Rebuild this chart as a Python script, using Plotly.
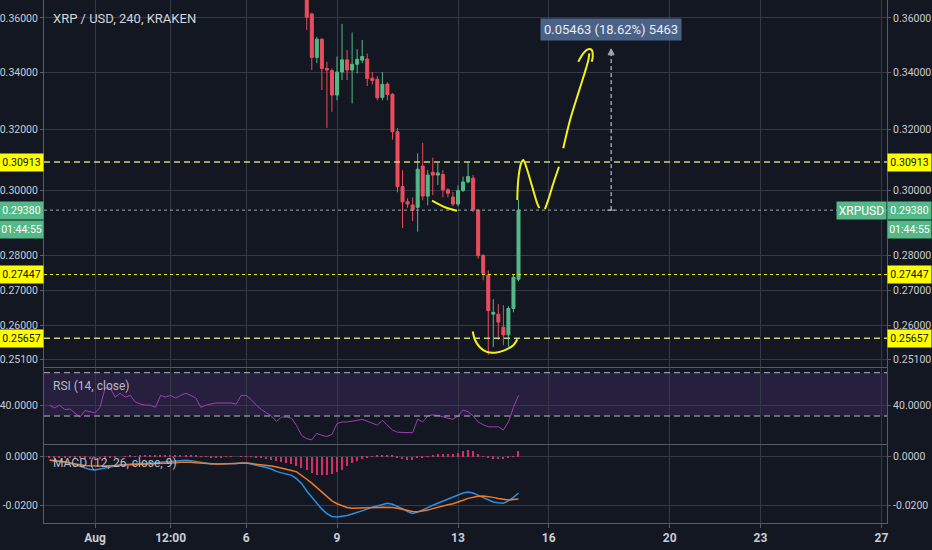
import numpy as np
import pandas as pd
import plotly.graph_objects as go

# ---------------- data ----------------
candle_start = "2018-08-08 00:00"
opens = [0.3720, 0.3615, 0.3453, 0.3520, 0.3413, 0.3405, 0.3318, 0.3400, 0.3444, 0.3407,
         0.3428, 0.3443, 0.3447, 0.3378, 0.3374, 0.3310, 0.3357, 0.3321, 0.3192, 0.3012,
         0.2964, 0.2954, 0.2947, 0.3078, 0.2982, 0.3058, 0.3049, 0.3051, 0.3002, 0.2979,
         0.2957, 0.3000, 0.3027, 0.3039, 0.2938, 0.2800, 0.2743, 0.2632, 0.2632, 0.2596,
         0.2575, 0.2648, 0.2731]
highs = [0.3745, 0.3620, 0.3529, 0.3523, 0.3437, 0.3413, 0.3456, 0.3577, 0.3480, 0.3545,
         0.3483, 0.3517, 0.3467, 0.3400, 0.3385, 0.3400, 0.3363, 0.3325, 0.3205, 0.3065,
         0.2975, 0.2978, 0.3120, 0.3155, 0.3065, 0.3106, 0.3088, 0.3065, 0.3007, 0.2995,
         0.3016, 0.3044, 0.3091, 0.3049, 0.2940, 0.2805, 0.2757, 0.2674, 0.2660, 0.2657,
         0.2654, 0.2746, 0.2970]
lows = [0.3555, 0.3407, 0.3432, 0.3336, 0.3205, 0.3260, 0.3300, 0.3371, 0.3371, 0.3289,
        0.3395, 0.3432, 0.3350, 0.3355, 0.3300, 0.3300, 0.3300, 0.3165, 0.2994, 0.2883,
        0.2945, 0.2904, 0.2872, 0.2969, 0.2953, 0.2985, 0.3017, 0.2978, 0.2978, 0.2950,
        0.2950, 0.2995, 0.3023, 0.2932, 0.2791, 0.2728, 0.2521, 0.2542, 0.2561, 0.2547,
        0.2543, 0.2637, 0.2725]
closes = [0.3603, 0.3453, 0.3520, 0.3413, 0.3407, 0.3318, 0.3400, 0.3444, 0.3407, 0.3428,
          0.3446, 0.3456, 0.3377, 0.3370, 0.3309, 0.3356, 0.3320, 0.3192, 0.3012, 0.2964,
          0.2957, 0.2938, 0.3068, 0.2982, 0.3049, 0.3049, 0.3056, 0.3002, 0.2991, 0.2957,
          0.2999, 0.3027, 0.3044, 0.2938, 0.2800, 0.2748, 0.2642, 0.2637, 0.2610, 0.2575,
          0.2648, 0.2737, 0.2938]

indicator_start = "2018-07-30 12:00"
rsi_values = [40, 37.5, 40, 36, 36.5, 33, 29, 35, 34,
              33, 38, 56, 56, 47.5, 51, 47.5, 49, 43, 41,
              40, 40, 38, 49, 47.5, 49, 46.5, 49, 51, 49,
              46.5, 38, 40, 41, 42, 42, 42, 42, 41, 49,
              49, 45, 40, 36, 33, 30, 25, 29, 29, 28,
              21, 12, 9, 8, 14, 12, 11, 13, 23, 24.5,
              24.5, 25, 26, 27, 25, 23, 21.5, 26, 21, 17,
              15, 15, 15, 14.5, 27, 24.5, 30, 31, 30.5, 29,
              28, 27, 30, 35.5, 34, 30, 24.5, 22, 20, 20,
              20, 17, 24.5, 38, 49]
macd_values = [-0.0013, -0.0015, -0.0018, -0.0022, -0.0026, -0.0032, -0.0040, -0.0046, -0.0052,
               -0.0054, -0.0050, -0.0046, -0.0040, -0.0036, -0.0034, -0.0032, -0.0030, -0.0030,
               -0.0028, -0.0028, -0.0026, -0.0026, -0.0024, -0.0022, -0.0020, -0.0018, -0.0016,
               -0.0014, -0.0016, -0.0020, -0.0024, -0.0028, -0.0030, -0.0030, -0.0030, -0.0030,
               -0.0030, -0.0028, -0.0026, -0.0026, -0.0030, -0.0034, -0.0038, -0.0044, -0.0050,
               -0.0060, -0.0066, -0.0070, -0.0076, -0.0090, -0.0110, -0.0140, -0.0166, -0.0192,
               -0.0214, -0.0232, -0.0244, -0.0246, -0.0244, -0.0240, -0.0234, -0.0228, -0.0222,
               -0.0214, -0.0206, -0.0200, -0.0194, -0.0190, -0.0194, -0.0202, -0.0212, -0.0224,
               -0.0232, -0.0226, -0.0218, -0.0208, -0.0198, -0.0190, -0.0182, -0.0172, -0.0164,
               -0.0156, -0.0148, -0.0144, -0.0148, -0.0158, -0.0168, -0.0178, -0.0185, -0.0188,
               -0.0190, -0.0180, -0.0166, -0.0148]
signal_values = [-0.0014, -0.0016, -0.0019, -0.0022, -0.0026, -0.0030, -0.0034, -0.0036, -0.0037,
                 -0.0038, -0.0038, -0.0038, -0.0037, -0.0036, -0.0035, -0.0035, -0.0034, -0.0034,
                 -0.0033, -0.0032, -0.0031, -0.0030, -0.0030, -0.0029, -0.0027, -0.0025, -0.0023,
                 -0.0022, -0.0023, -0.0025, -0.0027, -0.0029, -0.0030, -0.0030, -0.0030, -0.0029,
                 -0.0028, -0.0027, -0.0026, -0.0026, -0.0028, -0.0030, -0.0032, -0.0034, -0.0038,
                 -0.0042, -0.0046, -0.0050, -0.0056, -0.0062, -0.0076, -0.0092, -0.0108, -0.0126,
                 -0.0146, -0.0164, -0.0180, -0.0192, -0.0200, -0.0207, -0.0210, -0.0210, -0.0210,
                 -0.0210, -0.0209, -0.0207, -0.0206, -0.0205, -0.0207, -0.0210, -0.0215, -0.0220,
                 -0.0224, -0.0225, -0.0222, -0.0218, -0.0212, -0.0206, -0.0200, -0.0196, -0.0192,
                 -0.0186, -0.0178, -0.0170, -0.0164, -0.0161, -0.0160, -0.0162, -0.0166, -0.0171,
                 -0.0175, -0.0177, -0.0175, -0.0173]
hist_values = [-0.0002, -0.0002, -0.0002, -0.0003, -0.0004, -0.0005, -0.0006, -0.0008, -0.0010,
               -0.0012, -0.0010, -0.0008, -0.0004, -0.0002, 0.0000, 0.0002, 0.0003, 0.0002,
               0.0003, 0.0003, 0.0004, 0.0003, 0.0004, 0.0005, 0.0005, 0.0005, 0.0006, 0.0006, 0.0005, 0.0003,
               0.0001, -0.0001, -0.0002, -0.0002, -0.0002, -0.0001, -0.0001, 0.0000, 0.0001, 0.0001, -0.0001,
               -0.0004, -0.0007, -0.0010, -0.0014, -0.0018, -0.0022, -0.0026, -0.0030, -0.0038, -0.0046,
               -0.0056, -0.0066, -0.0074, -0.0076, -0.0076, -0.0072,
               -0.0062, -0.0056, -0.0036, -0.0026, -0.0016, -0.0008, -0.0004, 0.0002, 0.0004, 0.0006,
               0.0008, 0.0003, -0.0006, -0.0010, -0.0012, -0.0014,
               -0.0006, -0.0002, 0.0002, 0.0006, 0.0010, 0.0010, 0.0012, 0.0012, 0.0014, 0.0024, 0.0026,
               0.0024, 0.0010, 0.0002, -0.0006, -0.0008, -0.0010, -0.0010, -0.0006, 0.0001, 0.0022]

level_dashed = [0.30913, 0.25657]
level_dotted = [0.27447]
last_price = 0.29380
countdown_text = "01:44:55"
symbol_text = "XRPUSD"
title_text = "XRP / USD, 240, KRAKEN"
rsi_title = "RSI (14, close)"
macd_title = "MACD (12, 26, close, 9)"

price_ticks = [0.251, 0.26, 0.27, 0.28, 0.30, 0.32, 0.34, 0.36]
rsi_ticks = [40]
rsi_band = [30, 70]
macd_ticks = [0.0, -0.02]

x_tick_dates = ["2018-08-01", "2018-08-03 12:00", "2018-08-06", "2018-08-09", "2018-08-13",
                "2018-08-16", "2018-08-20", "2018-08-23", "2018-08-27"]
x_tick_text = ["Aug", "12:00", "6", "9", "13", "16", "20", "23", "27"]

measure_time = "2018-08-18 01:30"
measure_from = 0.29380
measure_change = 0.05463
measure_label = "0.05463 (18.62%) 5463"

# freehand drawings (time, price)
draw_small_arc_t = ["2018-08-12 03:24", "2018-08-12 13:42", "2018-08-12 23:12"]
draw_small_arc_p = [0.2968, 0.2947, 0.2936]
draw_bottom_arc_t = ["2018-08-13 11:42", "2018-08-13 13:30", "2018-08-13 17:30", "2018-08-13 22:48",
                     "2018-08-14 05:24", "2018-08-14 13:18", "2018-08-14 19:54", "2018-08-14 23:06"]
draw_bottom_arc_p = [0.2584, 0.2561, 0.2541, 0.2529, 0.2527, 0.2534, 0.2547, 0.2563]
draw_n_t = ["2018-08-14 23:03", "2018-08-14 23:24", "2018-08-15 00:36", "2018-08-15 02:12",
            "2018-08-15 03:48", "2018-08-15 06:30", "2018-08-15 10:30", "2018-08-15 14:24",
            "2018-08-15 16:30"]
draw_n_p = [0.2970, 0.3012, 0.3060, 0.3089, 0.3098, 0.3071, 0.3017, 0.2964, 0.2944]
draw_up_t = ["2018-08-15 21:00", "2018-08-15 23:36", "2018-08-16 03:36", "2018-08-16 08:06"]
draw_up_p = [0.2941, 0.2970, 0.3022, 0.3076]
draw_arrow_t = ["2018-08-16 11:30", "2018-08-16 16:54", "2018-08-16 23:24", "2018-08-17 04:48",
                "2018-08-17 07:24", "2018-08-17 08:12"]
draw_arrow_p = [0.3137, 0.3232, 0.3324, 0.3401, 0.3443, 0.3468]
draw_head_t = ["2018-08-16 23:24", "2018-08-17 03:24", "2018-08-17 07:24", "2018-08-17 10:06",
               "2018-08-17 10:54", "2018-08-17 10:06"]
draw_head_p = [0.3437, 0.3468, 0.3483, 0.3480, 0.3456, 0.3437]

x_range = ["2018-07-30 07:32", "2018-08-27 04:22"]
price_range = [0.2489, 0.3669]
rsi_range = [4.13, 74.34]
macd_range = [-0.02706, 0.00478]

# ---------------- style ----------------
BG = "#131722"
GRID = "#353946"
AXLINE = "#555a66"
TXT = "#c9ccd4"
UP = "#53b987"
DOWN = "#eb4d5c"
YEL = "#f2f21a"
FONT = "Roboto, Arial, sans-serif"
TICK_SIZE = 10.5

XD = [44 / 932, 887 / 932]
D_MAIN = [1 - 367 / 550, 1.0]
D_RSI = [1 - 444 / 550, 1 - 368 / 550]
D_MACD = [1 - 523 / 550, 1 - 445 / 550]

candle_t = pd.date_range(candle_start, periods=len(opens), freq="4h")
ind_t = pd.date_range(indicator_start, periods=len(rsi_values), freq="4h")

fig = go.Figure()

# horizontal levels on main chart
for lv in level_dashed:
    fig.add_trace(go.Scatter(x=x_range, y=[lv, lv], mode="lines", xaxis="x", yaxis="y",
                             line=dict(color="#cdd47a", width=1.5, dash="6px,4px"), hoverinfo="skip"))
for lv in level_dotted:
    fig.add_trace(go.Scatter(x=x_range, y=[lv, lv], mode="lines", xaxis="x", yaxis="y",
                             line=dict(color="#e8e82a", width=1, dash="dot"), hoverinfo="skip"))
fig.add_trace(go.Scatter(x=x_range, y=[last_price, last_price], mode="lines", xaxis="x", yaxis="y",
                         line=dict(color="#9aa6ad", width=1, dash="dot"), hoverinfo="skip"))

fig.add_trace(go.Candlestick(
    x=candle_t, open=opens, high=highs, low=lows, close=closes, xaxis="x", yaxis="y",
    increasing=dict(line=dict(color=UP, width=1), fillcolor=UP),
    decreasing=dict(line=dict(color=DOWN, width=1), fillcolor=DOWN),
    whiskerwidth=0, hoverinfo="skip"))

# drawings
for tt, pp in [(draw_small_arc_t, draw_small_arc_p), (draw_bottom_arc_t, draw_bottom_arc_p),
               (draw_n_t, draw_n_p), (draw_up_t, draw_up_p), (draw_arrow_t, draw_arrow_p),
               (draw_head_t, draw_head_p)]:
    fig.add_trace(go.Scatter(x=tt, y=pp, mode="lines", xaxis="x", yaxis="y",
                             line=dict(color=YEL, width=2, shape="spline", smoothing=0.8),
                             hoverinfo="skip"))

# measure tool
m_top = measure_from + measure_change
fig.add_trace(go.Scatter(x=[measure_time, measure_time], y=[measure_from, m_top], mode="lines+markers",
                         xaxis="x", yaxis="y",
                         line=dict(color="#dfe2ea", width=1, dash="4px,3px"),
                         marker=dict(symbol=["line-ew", "arrow-up"], size=[6, 6], color="#dfe2ea",
                                     line=dict(color="#dfe2ea", width=1)),
                         hoverinfo="skip"))

# RSI
fig.add_trace(go.Scatter(x=ind_t, y=rsi_values, mode="lines", xaxis="x2", yaxis="y2",
                         line=dict(color="#a23cb4", width=1), hoverinfo="skip"))
# MACD
fig.add_trace(go.Bar(x=ind_t, y=hist_values, xaxis="x3", yaxis="y3",
                     marker=dict(color="#d42e66", line=dict(width=0)),
                     width=4 * 3600 * 1000 * 0.3, hoverinfo="skip"))
fig.add_trace(go.Scatter(x=ind_t, y=macd_values, mode="lines", xaxis="x3", yaxis="y3",
                         line=dict(color="#2d8fe0", width=1.5), hoverinfo="skip"))
fig.add_trace(go.Scatter(x=ind_t, y=signal_values, mode="lines", xaxis="x3", yaxis="y3",
                         line=dict(color="#f0782a", width=1.5), hoverinfo="skip"))

# dummy traces for right-side axes
for ya, yv in [("y4", price_range), ("y5", rsi_range), ("y6", macd_range)]:
    xa = {"y4": "x", "y5": "x2", "y6": "x3"}[ya]
    fig.add_trace(go.Scatter(x=[x_range[0]], y=[yv[0]], mode="markers", xaxis=xa, yaxis=ya,
                             marker=dict(opacity=0), hoverinfo="skip"))

tickfont = dict(family=FONT, size=TICK_SIZE, color=TXT)


def yax(domain, anchor, rng, tickvals, ticktext, side="left", overlay=None, log=False):
    d = dict(anchor=anchor, side=side, range=rng, tickvals=tickvals, ticktext=ticktext,
             showgrid=overlay is None, gridcolor=GRID, gridwidth=1, zeroline=False,
             showline=True, linecolor=AXLINE, linewidth=1, ticks="outside", ticklen=3,
             tickcolor=AXLINE, tickfont=tickfont, fixedrange=True, automargin=False)
    if log:
        d["type"] = "log"
    if overlay:
        d["overlaying"] = overlay
    else:
        d["domain"] = domain
    return d


lr = [np.log10(price_range[0]), np.log10(price_range[1])]
pt_text = [f"{v:.5f}" for v in price_ticks]
rsi_text = [f"{v:.4f}" for v in rsi_ticks]
macd_text = [f"{v:.4f}" for v in macd_ticks]

xcommon = dict(range=x_range, type="date", tickvals=x_tick_dates, ticktext=x_tick_text,
               showgrid=True, gridcolor=GRID, zeroline=False, showline=True, linecolor=AXLINE,
               domain=XD, fixedrange=True, automargin=False)

layout = dict(
    width=932, height=550, margin=dict(l=0, r=0, t=0, b=0, autoexpand=False),
    paper_bgcolor=BG, plot_bgcolor=BG, showlegend=False, boxgap=0.15, bargap=0,
    xaxis=dict(**xcommon, anchor="y", showticklabels=False, rangeslider=dict(visible=False)),
    xaxis2=dict(**xcommon, anchor="y2", showticklabels=False, matches="x"),
    xaxis3=dict(**xcommon, anchor="y3", showticklabels=True, matches="x", ticks="outside",
                ticklen=4, tickcolor=AXLINE,
                tickfont=dict(family=FONT, size=12, color=TXT, weight="bold")),
    yaxis=yax(D_MAIN, "x", lr, price_ticks, pt_text, log=True),
    yaxis2=yax(D_RSI, "x2", rsi_range, rsi_ticks, rsi_text),
    yaxis3=yax(D_MACD, "x3", macd_range, macd_ticks, macd_text),
    yaxis4=yax(None, "x", lr, price_ticks, pt_text, side="right", overlay="y", log=True),
    yaxis5=yax(None, "x2", rsi_range, rsi_ticks, rsi_text, side="right", overlay="y2"),
    yaxis6=yax(None, "x3", macd_range, macd_ticks, macd_text, side="right", overlay="y3"),
)
fig.update_layout(**layout)

# RSI band and bounds
fig.add_shape(type="rect", xref="x2 domain", yref="y2", x0=0, x1=1, y0=rsi_band[0], y1=rsi_band[1],
              fillcolor="rgba(126,70,190,0.18)", line=dict(width=0), layer="below")
for b in rsi_band:
    fig.add_shape(type="line", xref="x2 domain", yref="y2", x0=0, x1=1, y0=b, y1=b,
                  line=dict(color="#b4b7c2", width=1, dash="6px,4px"))

annots = []


def tag(price, text, bg, fg, yshift=0):
    for x, xa in [(0, "right"), (1, "left")]:
        annots.append(dict(xref="x domain", x=x, xanchor=xa, yref="y", y=np.log10(price), yshift=yshift,
                           text=text, showarrow=False, bgcolor=bg, width=41, height=15, borderpad=1,
                           font=dict(family=FONT, size=TICK_SIZE, color=fg)))


for lv in level_dashed + level_dotted:
    tag(lv, f"{lv:.5f}", "#ffff00", "#111111")
tag(last_price, f"{last_price:.5f}", UP, "#ffffff")
tag(last_price, countdown_text, UP, "#ffffff", yshift=-19)

annots.append(dict(xref="x domain", x=1, xanchor="right", yref="y", y=np.log10(last_price),
                   text=symbol_text, showarrow=False, bgcolor=UP, width=47, height=15, borderpad=1,
                   font=dict(family=FONT, size=12, color="#ffffff")))
annots.append(dict(xref="x", x=measure_time, yref="y", y=np.log10(m_top), yshift=19,
                   text=measure_label, showarrow=False, bgcolor="#4a6287", borderpad=3,
                   font=dict(family=FONT, size=13, color="#e8ecf2")))
annots.append(dict(xref="x domain", x=0, xshift=7, xanchor="left", yref="y domain", y=1, yshift=-9,
                   yanchor="top", text=title_text, showarrow=False,
                   font=dict(family=FONT, size=13, color="#d1d4dc")))
annots.append(dict(xref="x2 domain", x=0, xshift=7, xanchor="left", yref="y2 domain", y=1, yshift=-9,
                   yanchor="top", text=rsi_title, showarrow=False,
                   font=dict(family=FONT, size=12, color="#b8bbc4")))
annots.append(dict(xref="x3 domain", x=0, xshift=7, xanchor="left", yref="y3 domain", y=1, yshift=-9,
                   yanchor="top", text=macd_title, showarrow=False,
                   font=dict(family=FONT, size=12, color="#b8bbc4")))
fig.update_layout(annotations=annots)

fig.write_html("out.html", config={"displayModeBar": False},
               post_script="document.body.style.margin='0';document.body.style.padding='0';")
